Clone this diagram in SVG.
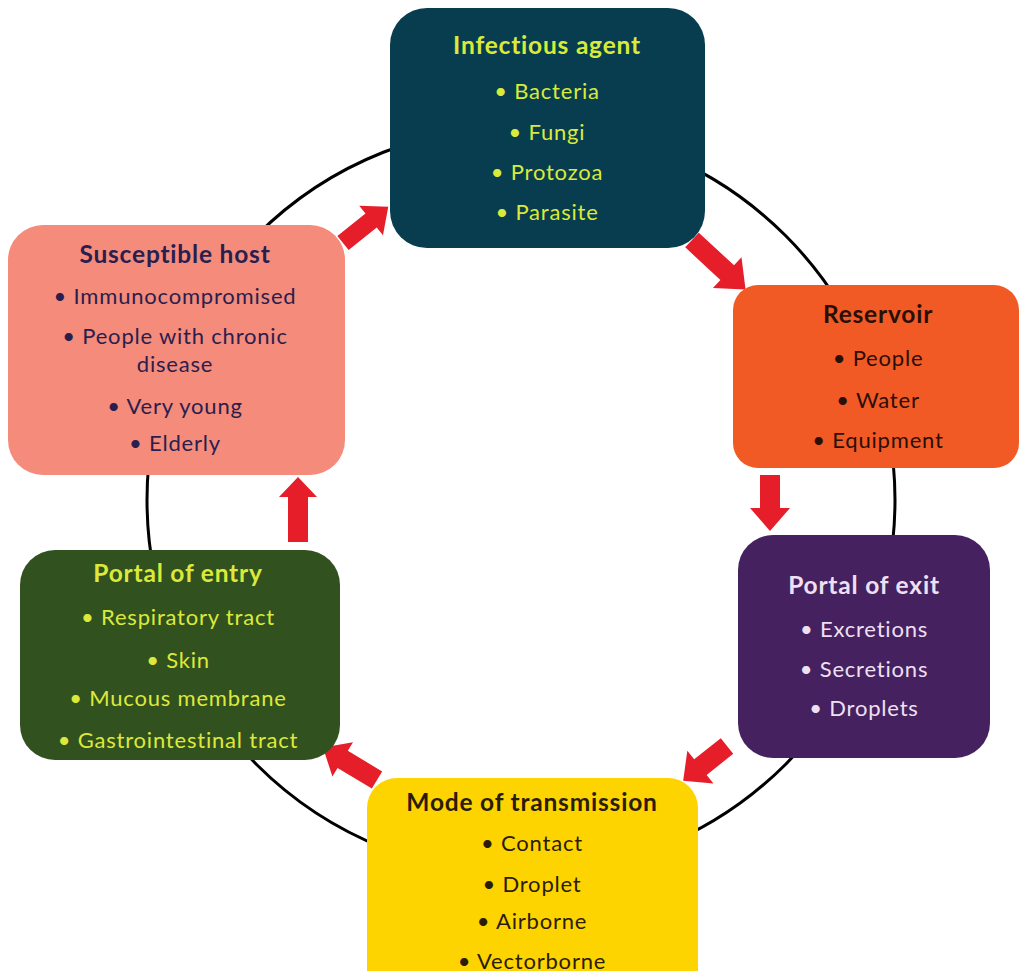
<svg xmlns="http://www.w3.org/2000/svg" width="1019" height="971" viewBox="0 0 1019 971">
<style>
.t{font-family:Lato,"Open Sans",sans-serif;text-anchor:middle;letter-spacing:0.8px}
.h{font-weight:bold;font-size:24.5px}
.i{font-size:22px}
.arr{fill:#e51e2a}
</style>
<rect width="1019" height="971" fill="#ffffff"/>
<g id="connectors">
<circle cx="521" cy="500" r="374" fill="none" stroke="#000" stroke-width="3"/>
<path class="arr" transform="translate(343,243) rotate(-38.7)" d="M0,-9 L36,-9 L36,-19 L58,0 L36,19 L36,9 L0,9 Z"/>
<path class="arr" transform="translate(692,240) rotate(42.8)" d="M0,-10 L48,-10 L48,-21 L73,0 L48,21 L48,10 L0,10 Z"/>
<path class="arr" transform="translate(770,475) rotate(90)" d="M0,-10 L33,-10 L33,-20 L56,0 L33,20 L33,10 L0,10 Z"/>
<path class="arr" transform="translate(727,746) rotate(141.5)" d="M0,-10 L34,-10 L34,-21 L56,0 L34,21 L34,10 L0,10 Z"/>
<path class="arr" transform="translate(377,780) rotate(211)" d="M0,-10 L40,-10 L40,-20 L63,0 L40,20 L40,10 L0,10 Z"/>
<path class="arr" transform="translate(298,542) rotate(-90)" d="M0,-10 L45,-10 L45,-19 L65,0 L45,19 L45,10 L0,10 Z"/>
</g>
<g id="infectious-agent">
<rect x="390" y="8" width="315" height="240" rx="37" fill="#073d4f"/>
<g class="t" fill="#d9ea3a">
<text class="h" x="547" y="54">Infectious agent</text>
<text class="i" x="547" y="99">• Bacteria</text>
<text class="i" x="547" y="140">• Fungi</text>
<text class="i" x="547" y="180">• Protozoa</text>
<text class="i" x="547" y="220">• Parasite</text>
</g>
</g>
<g id="reservoir">
<rect x="733" y="285" width="286" height="183" rx="25" fill="#f15a24"/>
<g class="t" fill="#2a0e08">
<text class="h" x="878" y="323">Reservoir</text>
<text class="i" x="878" y="366">• People</text>
<text class="i" x="878" y="408">• Water</text>
<text class="i" x="878" y="448">• Equipment</text>
</g>
</g>
<g id="portal-of-exit">
<rect x="738" y="535" width="252" height="223" rx="35" fill="#45215f"/>
<g class="t" fill="#eee0f2">
<text class="h" x="864" y="594">Portal of exit</text>
<text class="i" x="864" y="637">• Excretions</text>
<text class="i" x="864" y="677">• Secretions</text>
<text class="i" x="864" y="716">• Droplets</text>
</g>
</g>
<g id="mode-of-transmission">
<rect x="367" y="778" width="331" height="230" rx="30" fill="#fdd400"/>
<g class="t" fill="#2b1c08">
<text class="h" x="532" y="811">Mode of transmission</text>
<text class="i" x="532" y="851">• Contact</text>
<text class="i" x="532" y="892">• Droplet</text>
<text class="i" x="532" y="929">• Airborne</text>
<text class="i" x="532" y="969">• Vectorborne</text>
</g>
</g>
<g id="portal-of-entry">
<rect x="20" y="550" width="320" height="210" rx="35" fill="#31511f"/>
<g class="t" fill="#dde93a">
<text class="h" x="178" y="582">Portal of entry</text>
<text class="i" x="178" y="625">• Respiratory tract</text>
<text class="i" x="178" y="668">• Skin</text>
<text class="i" x="178" y="706">• Mucous membrane</text>
<text class="i" x="178" y="748">• Gastrointestinal tract</text>
</g>
</g>
<g id="susceptible-host">
<rect x="8" y="225" width="337" height="250" rx="35" fill="#f48b7b"/>
<g class="t" fill="#2a1e4e">
<text class="h" x="175" y="263">Susceptible host</text>
<text class="i" x="175" y="304">• Immunocompromised</text>
<text class="i" x="175" y="344">• People with chronic</text>
<text class="i" x="175" y="372">disease</text>
<text class="i" x="175" y="414">• Very young</text>
<text class="i" x="175" y="451">• Elderly</text>
</g>
</g>
</svg>
